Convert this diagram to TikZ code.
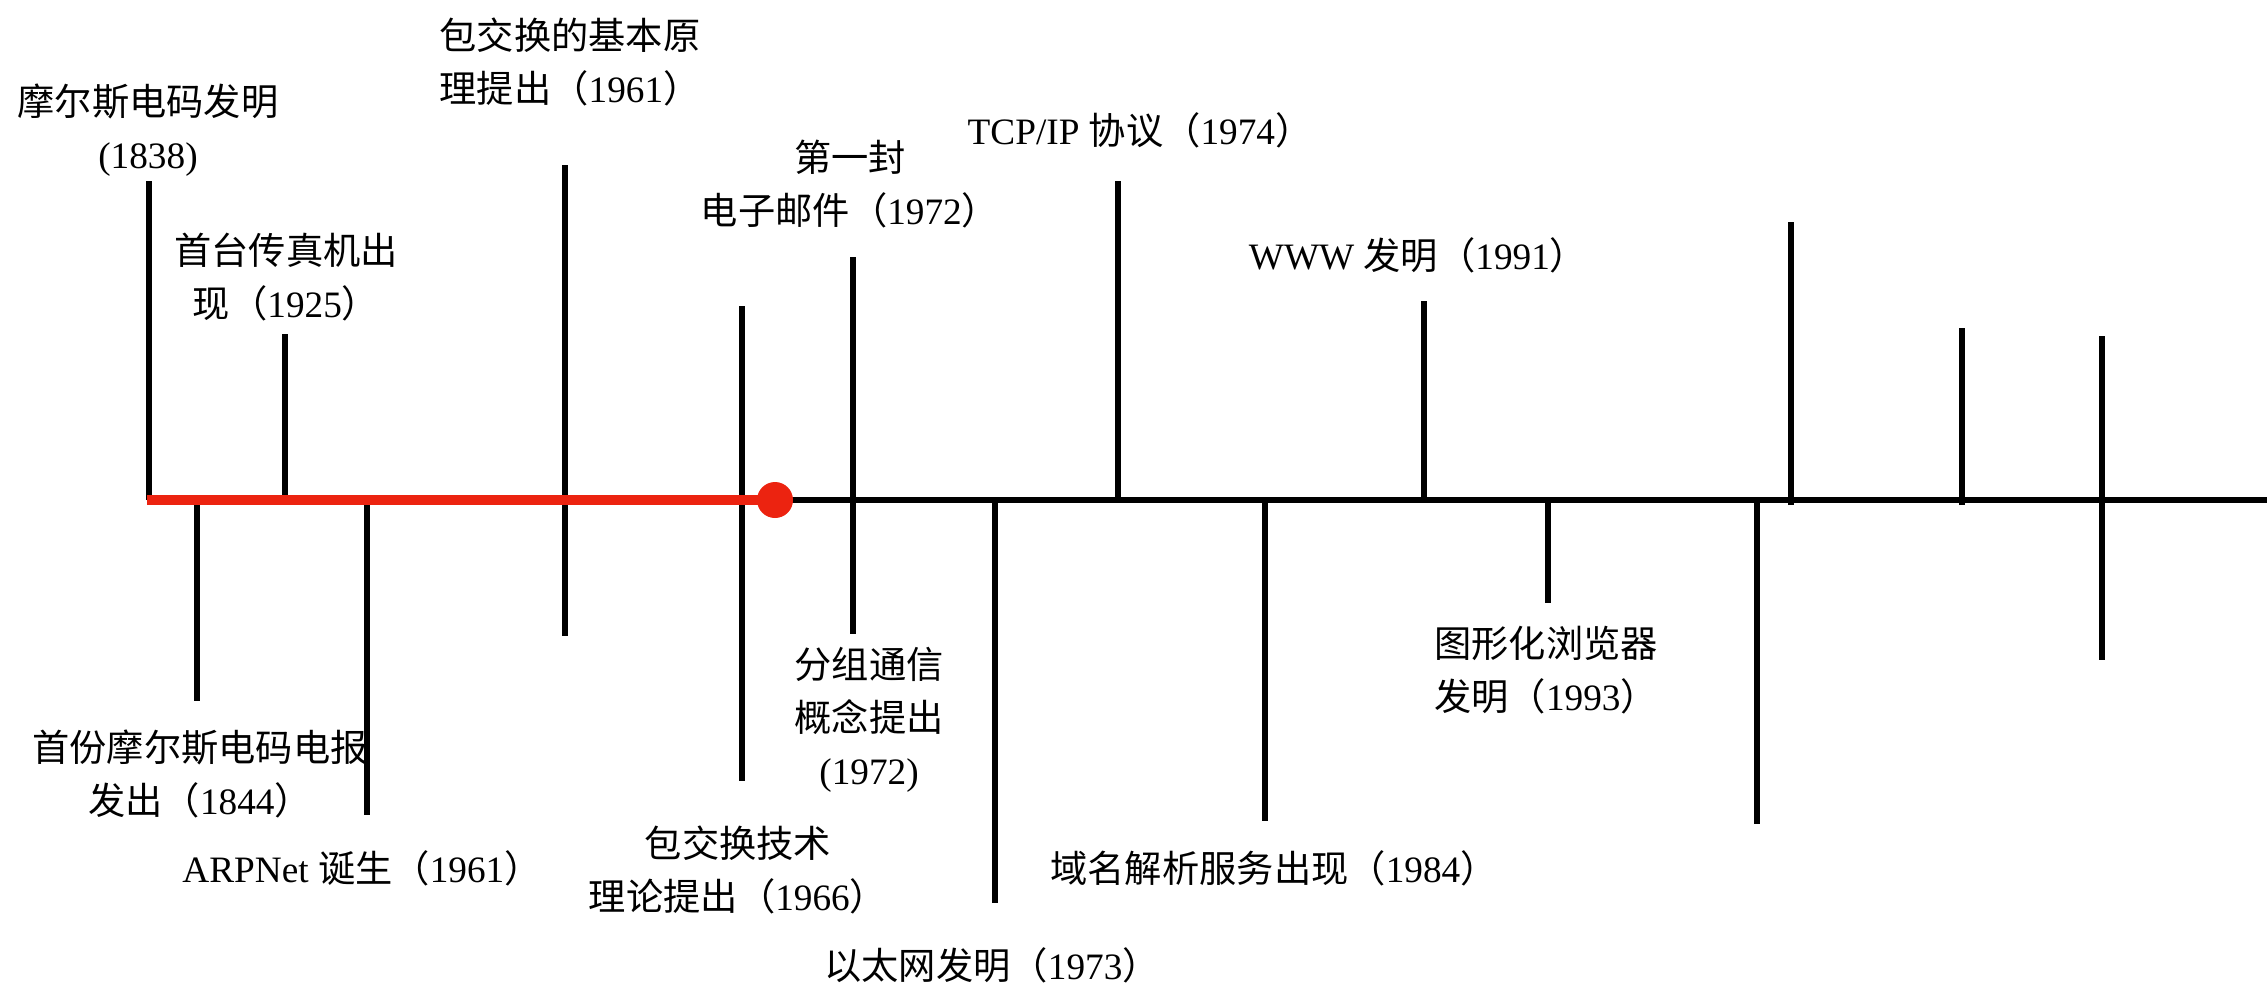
\documentclass[tikz,border=0pt]{standalone}
\usepackage{fontspec}
\setmainfont{Liberation Serif}
\newfontfamily\cjk{Noto Sans CJK SC}
\newcommand{\yr}[1]{{\cjk （}#1{\cjk ）}}
\definecolor{tlred}{RGB}{236,35,16}
\usetikzlibrary{positioning}

\begin{document}
\begin{tikzpicture}[x=0.1mm, y=-0.1mm, lb/.style={align=center, inner sep=0pt, font=\fontsize{10.6}{15}\selectfont}, tk/.style={line width=0.55mm}, ax/.style={line width=0.6mm}, rd/.style={line width=1.07mm, tlred}]
		\useasboundingbox (0,0) rectangle (2267,994);

		% ticks above the axis
		\draw[tk] (149,500) -- (149,181);
		\draw[tk] (285,500) -- (285,334);
		\draw[tk] (565,500) -- (565,165);
		\draw[tk] (742,500) -- (742,306);
		\draw[tk] (853,500) -- (853,257);
		\draw[tk] (1118,500) -- (1118,181);
		\draw[tk] (1424,500) -- (1424,301);
		\draw[tk] (1791,505) -- (1791,222);
		\draw[tk] (1962,505) -- (1962,328);
		\draw[tk] (2102,500) -- (2102,336);

		% ticks below the axis
		\draw[tk] (197,500) -- (197,701);
		\draw[tk] (367,500) -- (367,815);
		\draw[tk] (565,500) -- (565,636);
		\draw[tk] (742,500) -- (742,781);
		\draw[tk] (853,500) -- (853,634);
		\draw[tk] (995,500) -- (995,903);
		\draw[tk] (1265,500) -- (1265,821);
		\draw[tk] (1548,500) -- (1548,603);
		\draw[tk] (1757,500) -- (1757,824);
		\draw[tk] (2102,500) -- (2102,660);

		% axis
		\coordinate (start) at (147,500);
		\coordinate (now) at (775,500);
		\coordinate (end) at (2267,500);
		\draw[ax] (now) -- (end);
		\draw[rd] (start) -- (now);
		\fill[tlred] (now) circle (18);

		% events above
		\node[lb] (morse) at (148,130) {{\cjk 摩尔斯电码发明}\\(1838)};
		\node[lb] (fax) at (286,277) {{\cjk 首台传真机出}\\{\cjk 现}\yr{1925}};
		\node[lb] (pkt) at (570,62) {{\cjk 包交换的基本原}\\{\cjk 理提出}\yr{1961}};
		\node[lb] (mail) at (850,184) {{\cjk 第一封}\\{\cjk 电子邮件}\yr{1972}};
		\node[lb] (tcp) at (1140,130) {TCP/IP {\cjk 协议}\yr{1974}};
		\node[lb] (www) at (1418,255) {WWW {\cjk 发明}\yr{1991}};

		% events below
		\node[lb] (tele) at (200,774) {{\cjk 首份摩尔斯电码电报}\\{\cjk 发出}\yr{1844}};
		\node[lb] (arpa) at (362,868) {ARPNet {\cjk 诞生}\yr{1961}};
		\node[lb] (pkttheo) at (738,870) {{\cjk 包交换技术}\\{\cjk 理论提出}\yr{1966}};
		\node[lb] (group) at (869,720) {{\cjk 分组通信}\\{\cjk 概念提出}\\(1972)};
		\node[lb] (eth) at (992,965) {{\cjk 以太网发明}\yr{1973}};
		\node[lb] (dns) at (1274,868) {{\cjk 域名解析服务出现}\yr{1984}};
		\node[lb] (gui) at (1546,670) {{\cjk 图形化浏览器}\\{\cjk 发明}\yr{1993}};
	\end{tikzpicture}
\end{document}
